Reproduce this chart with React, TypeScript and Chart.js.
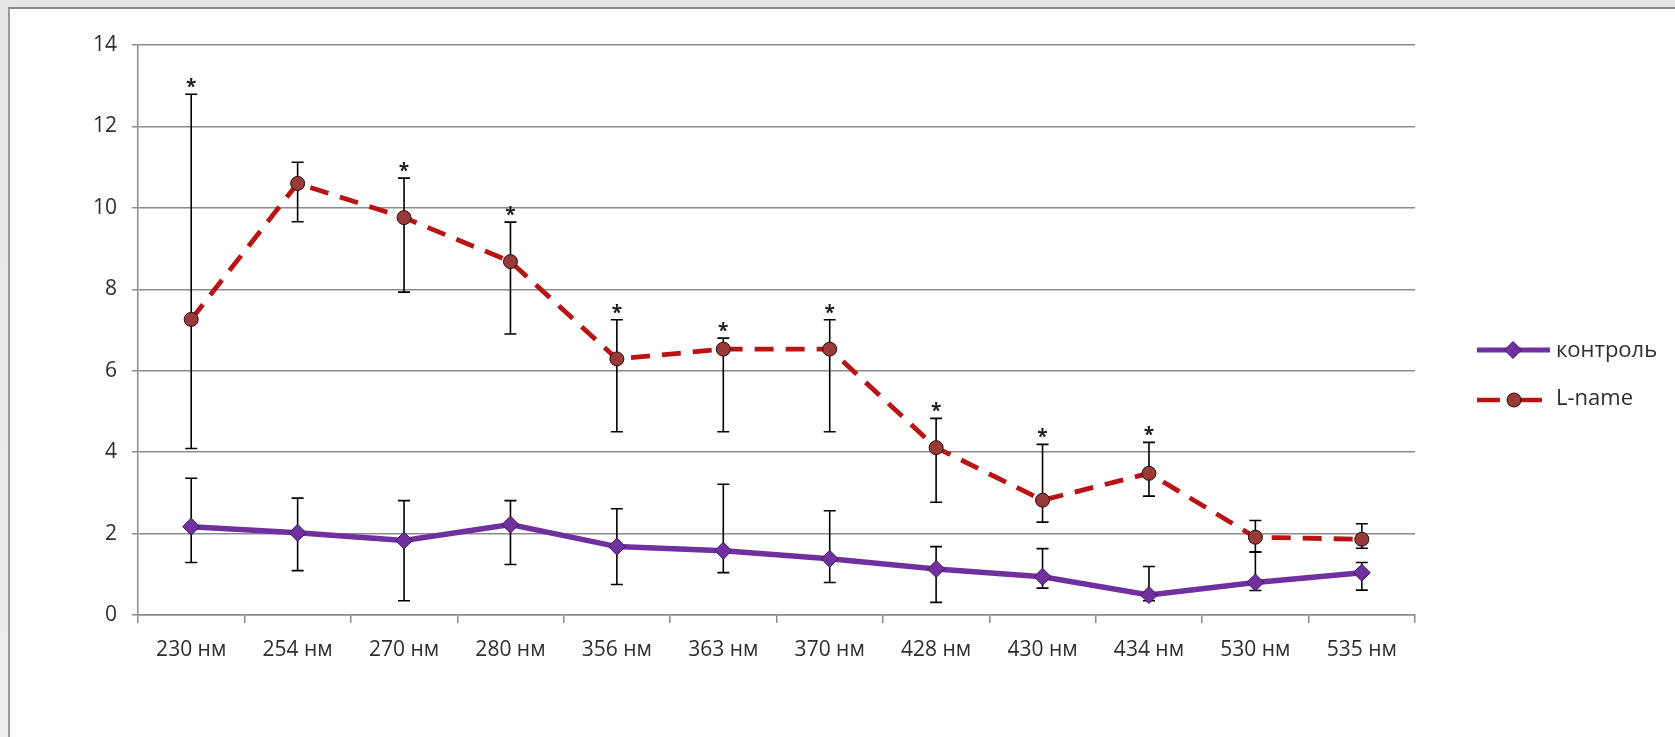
import React, { useEffect, useRef } from "react";
import { Chart, registerables } from "chart.js";

Chart.register(...registerables);

const categories = ["230 нм", "254 нм", "270 нм", "280 нм", "356 нм", "363 нм", "370 нм", "428 нм", "430 нм", "434 нм", "530 нм", "535 нм"];
const seriesNames = ["контроль", "L-name"];

const controlMean = [2.17, 2.02, 1.83, 2.22, 1.68, 1.58, 1.38, 1.13, 0.94, 0.49, 0.8, 1.04];
const controlHigh = [3.36, 2.87, 2.81, 2.81, 2.61, 3.21, 2.56, 1.68, 1.63, 1.19, 1.54, 1.29];
const controlLow = [1.29, 1.09, 0.35, 1.24, 0.75, 1.04, 0.8, 0.31, 0.66, 0.35, 0.6, 0.61];

const lnameMean = [7.26, 10.6, 9.76, 8.68, 6.29, 6.53, 6.53, 4.11, 2.82, 3.48, 1.91, 1.86];
const lnameHigh = [12.79, 11.12, 10.73, 9.65, 7.25, 6.8, 7.25, 4.83, 4.19, 4.24, 2.32, 2.24];
const lnameLow = [4.09, 9.66, 7.93, 6.9, 4.5, 4.5, 4.5, 2.77, 2.28, 2.92, 1.55, 1.64];
const lnameSignificant = [true, false, true, true, true, true, true, true, true, true, false, false];

const yMin = 0;
const yMax = 14;
const yStep = 2;

const FONT = '"Open Sans", "Noto Sans", sans-serif';
const PURPLE = "#7030a0";
const PURPLE_EDGE = "#3a1758";
const RED = "#b81414";
const RED_FILL = "#983a38";
const RED_EDGE = "#2a0808";
const GRID = "#8c8c8c";
const TEXT = "#2e2e2e";

const errorBars = [
  { high: controlHigh, low: controlLow },
  { high: lnameHigh, low: lnameLow },
];

const errorBarPlugin = {
  id: "errorBars",
  beforeDatasetsDraw(chart: any) {
    const ctx = chart.ctx;
    const xs = chart.scales.x;
    const ys = chart.scales.y;
    ctx.save();
    ctx.strokeStyle = "#000000";
    ctx.lineWidth = 1.6;
    ctx.setLineDash([]);
    errorBars.forEach((eb) => {
      categories.forEach((_, i) => {
        const x = xs.getPixelForValue(i);
        const yh = ys.getPixelForValue(eb.high[i]);
        const yl = ys.getPixelForValue(eb.low[i]);
        ctx.beginPath();
        ctx.moveTo(x, yh);
        ctx.lineTo(x, yl);
        ctx.moveTo(x - 6, yh);
        ctx.lineTo(x + 6, yh);
        ctx.moveTo(x - 6, yl);
        ctx.lineTo(x + 6, yl);
        ctx.stroke();
      });
    });
    ctx.restore();
  },
  afterDatasetsDraw(chart: any) {
    const ctx = chart.ctx;
    const xs = chart.scales.x;
    const ys = chart.scales.y;
    ctx.save();
    ctx.fillStyle = "#1e1e1e";
    ctx.font = `bold 19px ${FONT}`;
    ctx.textAlign = "center";
    ctx.textBaseline = "alphabetic";
    lnameSignificant.forEach((s, i) => {
      if (!s) return;
      const x = xs.getPixelForValue(i);
      const y = ys.getPixelForValue(lnameHigh[i]);
      ctx.fillText("*", x, y - 1);
    });
    ctx.restore();
  },
};

function drawDiamond(ctx: CanvasRenderingContext2D, x: number, y: number, r: number) {
  ctx.beginPath();
  ctx.moveTo(x, y - r);
  ctx.lineTo(x + r, y);
  ctx.lineTo(x, y + r);
  ctx.lineTo(x - r, y);
  ctx.closePath();
  ctx.fill();
  ctx.stroke();
}

const legendPlugin = {
  id: "customLegend",
  afterDraw(chart: any) {
    const ctx = chart.ctx;
    const area = chart.chartArea;
    const x0 = area.right + 62;
    const lineLen = 73;
    const textX = x0 + 79;
    const y1 = 350;
    const y2 = 400;
    ctx.save();
    // control
    ctx.setLineDash([]);
    ctx.strokeStyle = PURPLE;
    ctx.lineWidth = 5;
    ctx.beginPath();
    ctx.moveTo(x0, y1);
    ctx.lineTo(x0 + lineLen, y1);
    ctx.stroke();
    ctx.fillStyle = PURPLE;
    ctx.strokeStyle = PURPLE_EDGE;
    ctx.lineWidth = 1;
    drawDiamond(ctx, x0 + 36, y1, 8.5);
    // L-name
    ctx.strokeStyle = RED;
    ctx.lineWidth = 4.5;
    ctx.beginPath();
    ctx.moveTo(x0, y2);
    ctx.lineTo(x0 + 23, y2);
    ctx.moveTo(x0 + 42, y2);
    ctx.lineTo(x0 + 65, y2);
    ctx.stroke();
    ctx.fillStyle = RED_FILL;
    ctx.strokeStyle = RED_EDGE;
    ctx.lineWidth = 1;
    ctx.beginPath();
    ctx.arc(x0 + 37, y2, 7, 0, Math.PI * 2);
    ctx.fill();
    ctx.stroke();
    // texts
    ctx.fillStyle = TEXT;
    ctx.font = `22px ${FONT}`;
    ctx.textAlign = "left";
    ctx.textBaseline = "middle";
    ctx.fillText(seriesNames[0], textX, y1 + 1);
    ctx.fillText(seriesNames[1], textX, y2 - 1);
    ctx.restore();
  },
};

export default function App() {
  const canvasRef = useRef<HTMLCanvasElement | null>(null);

  useEffect(() => {
    const canvas = canvasRef.current;
    if (!canvas) return;
    const chart = new Chart(canvas, {
      type: "line",
      data: {
        labels: categories,
        datasets: [
          {
            label: seriesNames[0],
            data: controlMean,
            borderColor: PURPLE,
            borderWidth: 5.5,
            tension: 0,
            pointStyle: "rectRot",
            pointRadius: 8.5,
            pointBackgroundColor: PURPLE,
            pointBorderColor: PURPLE_EDGE,
            pointBorderWidth: 1,
            fill: false,
          },
          {
            label: seriesNames[1],
            data: lnameMean,
            borderColor: RED,
            borderWidth: 4.8,
            borderDash: [19, 12],
            tension: 0,
            pointStyle: "circle",
            pointRadius: 7,
            pointBackgroundColor: RED_FILL,
            pointBorderColor: RED_EDGE,
            pointBorderWidth: 1,
            fill: false,
          },
        ],
      },
      options: {
        responsive: false,
        animation: false,
        layout: { padding: { left: 0, right: 260, top: 45, bottom: 0 } },
        plugins: {
          legend: { display: false },
          tooltip: { enabled: false },
        },
        scales: {
          x: {
            type: "category",
            offset: true,
            grid: {
              offset: true,
              drawOnChartArea: false,
              color: GRID,
              lineWidth: 1.5,
              tickLength: 8,
            },
            border: { color: GRID, width: 1.5 },
            ticks: {
              font: { family: FONT, size: 21 },
              color: TEXT,
              padding: 14,
              maxRotation: 0,
              autoSkip: false,
            },
            afterFit(scale: any) {
              scale.height = 122;
            },
          },
          y: {
            min: yMin,
            max: yMax,
            ticks: {
              stepSize: yStep,
              font: { family: FONT, size: 21 },
              color: TEXT,
              padding: 15,
            },
            grid: { color: GRID, lineWidth: 1.5, tickLength: 6 },
            border: { color: GRID, width: 1.5 },
            afterFit(scale: any) {
              scale.width = 138;
            },
          },
        },
      },
      plugins: [errorBarPlugin, legendPlugin],
    });
    return () => chart.destroy();
  }, []);

  return (
    <div
      style={{
        position: "fixed",
        left: 0,
        top: 0,
        width: 1675,
        height: 737,
        background: "linear-gradient(#e6e6e6, #efefef)",
        overflow: "hidden",
      }}
    >
      <div
        style={{
          position: "absolute",
          left: 8,
          top: 7,
          width: 1675,
          height: 737,
          background: "#ffffff",
          borderLeft: "2px solid #9a9a9a",
          borderTop: "2px solid #8a8a8a",
        }}
      />
      <canvas
        ref={canvasRef}
        width={1675}
        height={737}
        style={{ position: "absolute", left: 0, top: 0, width: 1675, height: 737 }}
      />
    </div>
  );
}
